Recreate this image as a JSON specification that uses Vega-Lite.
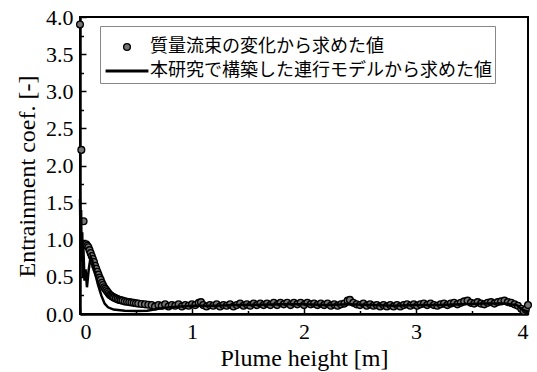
{
  "$schema": "https://vega.github.io/schema/vega-lite/v6.json",
  "width": 448,
  "height": 297,
  "autosize": {"type": "none"},
  "padding": {"left": 80, "top": 17, "right": 9, "bottom": 58},
  "background": "white",
  "config": {
    "view": {"stroke": "black", "strokeWidth": 2},
    "axis": {
      "grid": false,
      "domainColor": "black",
      "domainWidth": 2.5,
      "tickColor": "black",
      "tickWidth": 1.5,
      "labelFont": "Liberation Serif",
      "labelFontSize": 22,
      "labelColor": "black",
      "titleFont": "Liberation Serif",
      "titleFontSize": 24,
      "titleFontWeight": "normal",
      "titleColor": "black",
      "labelOverlap": false
    }
  },
  "datasets": {
    "pts": [
      {"x": 0.000, "y": 3.90}, {"x": 0.012, "y": 2.21}, {"x": 0.032, "y": 1.25}, {"x": 0.045, "y": 0.93},
      {"x": 0.055, "y": 0.94}, {"x": 0.065, "y": 0.92}, {"x": 0.075, "y": 0.90}, {"x": 0.085, "y": 0.86},
      {"x": 0.095, "y": 0.82}, {"x": 0.105, "y": 0.78}, {"x": 0.115, "y": 0.74}, {"x": 0.125, "y": 0.70},
      {"x": 0.135, "y": 0.65}, {"x": 0.145, "y": 0.61}, {"x": 0.155, "y": 0.57}, {"x": 0.165, "y": 0.53},
      {"x": 0.175, "y": 0.49}, {"x": 0.185, "y": 0.46}, {"x": 0.195, "y": 0.42}, {"x": 0.205, "y": 0.39},
      {"x": 0.215, "y": 0.36}, {"x": 0.225, "y": 0.34}, {"x": 0.235, "y": 0.32}, {"x": 0.245, "y": 0.30},
      {"x": 0.255, "y": 0.28}, {"x": 0.265, "y": 0.26}, {"x": 0.275, "y": 0.25}, {"x": 0.285, "y": 0.24},
      {"x": 0.295, "y": 0.23}, {"x": 0.305, "y": 0.22}, {"x": 0.320, "y": 0.21}, {"x": 0.335, "y": 0.20},
      {"x": 0.350, "y": 0.19}, {"x": 0.365, "y": 0.185}, {"x": 0.380, "y": 0.18}, {"x": 0.400, "y": 0.17},
      {"x": 0.420, "y": 0.165}, {"x": 0.440, "y": 0.16}, {"x": 0.460, "y": 0.155}, {"x": 0.480, "y": 0.15},
      {"x": 0.500, "y": 0.145}, {"x": 0.520, "y": 0.14}, {"x": 0.550, "y": 0.135}, {"x": 0.580, "y": 0.13},
      {"x": 0.610, "y": 0.125}, {"x": 0.640, "y": 0.12}, {"x": 0.670, "y": 0.10}, {"x": 0.700, "y": 0.12},
      {"x": 0.730, "y": 0.11}, {"x": 0.760, "y": 0.13}, {"x": 0.790, "y": 0.10}, {"x": 0.820, "y": 0.12},
      {"x": 0.850, "y": 0.11}, {"x": 0.880, "y": 0.13}, {"x": 0.910, "y": 0.10}, {"x": 0.940, "y": 0.12},
      {"x": 0.970, "y": 0.11}, {"x": 1.000, "y": 0.13}, {"x": 1.030, "y": 0.12}, {"x": 1.060, "y": 0.15},
      {"x": 1.080, "y": 0.16}, {"x": 1.100, "y": 0.12}, {"x": 1.130, "y": 0.10}, {"x": 1.160, "y": 0.12},
      {"x": 1.190, "y": 0.11}, {"x": 1.220, "y": 0.13}, {"x": 1.250, "y": 0.10}, {"x": 1.280, "y": 0.12},
      {"x": 1.310, "y": 0.11}, {"x": 1.340, "y": 0.13}, {"x": 1.370, "y": 0.10}, {"x": 1.400, "y": 0.12},
      {"x": 1.430, "y": 0.14}, {"x": 1.460, "y": 0.11}, {"x": 1.490, "y": 0.13}, {"x": 1.520, "y": 0.11},
      {"x": 1.550, "y": 0.14}, {"x": 1.580, "y": 0.12}, {"x": 1.610, "y": 0.14}, {"x": 1.640, "y": 0.12},
      {"x": 1.670, "y": 0.14}, {"x": 1.700, "y": 0.12}, {"x": 1.730, "y": 0.15}, {"x": 1.760, "y": 0.12},
      {"x": 1.790, "y": 0.15}, {"x": 1.820, "y": 0.13}, {"x": 1.850, "y": 0.15}, {"x": 1.880, "y": 0.12},
      {"x": 1.910, "y": 0.15}, {"x": 1.940, "y": 0.13}, {"x": 1.970, "y": 0.15}, {"x": 2.000, "y": 0.12},
      {"x": 2.030, "y": 0.15}, {"x": 2.060, "y": 0.13}, {"x": 2.090, "y": 0.14}, {"x": 2.120, "y": 0.12},
      {"x": 2.150, "y": 0.14}, {"x": 2.180, "y": 0.12}, {"x": 2.210, "y": 0.14}, {"x": 2.240, "y": 0.11},
      {"x": 2.270, "y": 0.13}, {"x": 2.300, "y": 0.11}, {"x": 2.330, "y": 0.13}, {"x": 2.360, "y": 0.14},
      {"x": 2.390, "y": 0.18}, {"x": 2.410, "y": 0.19}, {"x": 2.440, "y": 0.15}, {"x": 2.470, "y": 0.13},
      {"x": 2.500, "y": 0.12}, {"x": 2.530, "y": 0.14}, {"x": 2.560, "y": 0.11}, {"x": 2.590, "y": 0.13},
      {"x": 2.620, "y": 0.11}, {"x": 2.650, "y": 0.12}, {"x": 2.680, "y": 0.10}, {"x": 2.710, "y": 0.12},
      {"x": 2.740, "y": 0.10}, {"x": 2.770, "y": 0.12}, {"x": 2.800, "y": 0.10}, {"x": 2.830, "y": 0.12},
      {"x": 2.860, "y": 0.10}, {"x": 2.890, "y": 0.12}, {"x": 2.920, "y": 0.13}, {"x": 2.950, "y": 0.11},
      {"x": 2.980, "y": 0.13}, {"x": 3.010, "y": 0.11}, {"x": 3.040, "y": 0.13}, {"x": 3.070, "y": 0.14},
      {"x": 3.100, "y": 0.12}, {"x": 3.130, "y": 0.14}, {"x": 3.160, "y": 0.12}, {"x": 3.190, "y": 0.11},
      {"x": 3.220, "y": 0.13}, {"x": 3.250, "y": 0.14}, {"x": 3.280, "y": 0.12}, {"x": 3.310, "y": 0.14},
      {"x": 3.340, "y": 0.15}, {"x": 3.370, "y": 0.13}, {"x": 3.400, "y": 0.15}, {"x": 3.430, "y": 0.17},
      {"x": 3.460, "y": 0.18}, {"x": 3.490, "y": 0.15}, {"x": 3.520, "y": 0.14}, {"x": 3.550, "y": 0.16},
      {"x": 3.580, "y": 0.14}, {"x": 3.610, "y": 0.13}, {"x": 3.640, "y": 0.15}, {"x": 3.670, "y": 0.16},
      {"x": 3.700, "y": 0.14}, {"x": 3.730, "y": 0.16}, {"x": 3.760, "y": 0.17}, {"x": 3.790, "y": 0.18},
      {"x": 3.820, "y": 0.16}, {"x": 3.850, "y": 0.15}, {"x": 3.880, "y": 0.13}, {"x": 3.910, "y": 0.11},
      {"x": 3.940, "y": 0.07}, {"x": 3.960, "y": 0.04}, {"x": 3.980, "y": 0.06}, {"x": 4.000, "y": 0.12}
    ],
    "model": [
      {"x": 0.000, "y": 1.55}, {"x": 0.005, "y": 1.00}, {"x": 0.010, "y": 1.40}, {"x": 0.015, "y": 0.70},
      {"x": 0.020, "y": 1.10}, {"x": 0.025, "y": 0.50}, {"x": 0.030, "y": 0.90}, {"x": 0.040, "y": 0.45},
      {"x": 0.050, "y": 0.60}, {"x": 0.062, "y": 0.36}, {"x": 0.078, "y": 0.60}, {"x": 0.095, "y": 0.77},
      {"x": 0.110, "y": 0.72}, {"x": 0.130, "y": 0.58}, {"x": 0.160, "y": 0.40}, {"x": 0.190, "y": 0.25},
      {"x": 0.220, "y": 0.14}, {"x": 0.250, "y": 0.09}, {"x": 0.300, "y": 0.06}, {"x": 0.400, "y": 0.045},
      {"x": 0.500, "y": 0.04}, {"x": 0.600, "y": 0.045}, {"x": 0.700, "y": 0.07}, {"x": 0.800, "y": 0.09},
      {"x": 0.900, "y": 0.10}, {"x": 1.000, "y": 0.11}, {"x": 1.200, "y": 0.11}, {"x": 1.400, "y": 0.12},
      {"x": 1.600, "y": 0.125}, {"x": 1.800, "y": 0.13}, {"x": 2.000, "y": 0.13}, {"x": 2.200, "y": 0.12},
      {"x": 2.400, "y": 0.13}, {"x": 2.600, "y": 0.12}, {"x": 2.800, "y": 0.11}, {"x": 3.000, "y": 0.12},
      {"x": 3.200, "y": 0.12}, {"x": 3.400, "y": 0.13}, {"x": 3.600, "y": 0.14}, {"x": 3.800, "y": 0.14},
      {"x": 3.900, "y": 0.12}, {"x": 3.950, "y": 0.06}, {"x": 4.000, "y": 0.03}
    ]
  },
  "encoding": {
    "x": {
      "field": "x", "type": "quantitative",
      "scale": {"domain": [0, 4], "nice": false},
      "axis": {
        "title": "Plume height [m]",
        "values": [0, 0.5, 1, 1.5, 2, 2.5, 3, 3.5, 4],
        "labelExpr": "datum.value % 1 === 0 ? format(datum.value, 'd') : ''",
        "labelFont": "Liberation Serif",
        "labelOverlap": false,
        "tickSize": {"condition": {"test": "datum.value % 1 === 0", "value": -6}, "value": -3.5},
        "labelPadding": 13,
        "titlePadding": 2
      }
    },
    "y": {
      "field": "y", "type": "quantitative",
      "scale": {"domain": [0, 4], "nice": false},
      "axis": {
        "title": "Entrainment coef. [-]",
        "values": [0, 0.25, 0.5, 0.75, 1, 1.25, 1.5, 1.75, 2, 2.25, 2.5, 2.75, 3, 3.25, 3.5, 3.75, 4],
        "labelExpr": "(datum.value * 2) % 1 === 0 ? format(datum.value, '.1f') : ''",
        "labelFont": "Liberation Serif",
        "labelOverlap": false,
        "tickSize": {"condition": {"test": "(datum.value * 2) % 1 === 0", "value": -6}, "value": -3.5},
        "labelPadding": 13,
        "titlePadding": 6,
        "titleY": 159
      }
    }
  },
  "layer": [
    {
      "data": {"name": "pts"},
      "transform": [{"calculate": "'質量流束の変化から求めた値'", "as": "series"}],
      "mark": {"type": "point", "filled": true, "opacity": 1},
      "encoding": {
        "fill": {
          "field": "series", "type": "nominal",
          "scale": {"domain": ["質量流束の変化から求めた値", "本研究で構築した連行モデルから求めた値"], "range": ["#757575", "black"]},
          "legend": {
            "orient": "none", "legendX": 20, "legendY": 9, "title": " ",
            "titleFontSize": 7, "titlePadding": 2,
            "strokeColor": "#888888", "padding": 3, "fillColor": "white",
            "labelFont": "Noto Sans CJK JP", "labelFontSize": 18, "labelColor": "black",
            "labelLimit": 600, "rowPadding": 6, "labelOffset": 14, "symbolOffset": 15
          }
        },
        "stroke": {
          "field": "series", "type": "nominal",
          "scale": {"domain": ["質量流束の変化から求めた値", "本研究で構築した連行モデルから求めた値"], "range": ["black", "black"]}
        },
        "shape": {
          "field": "series", "type": "nominal",
          "scale": {"domain": ["質量流束の変化から求めた値", "本研究で構築した連行モデルから求めた値"], "range": ["circle", "M-3.5,0H3.5"]}
        },
        "size": {
          "field": "series", "type": "nominal",
          "scale": {"domain": ["質量流束の変化から求めた値", "本研究で構築した連行モデルから求めた値"], "range": [46, 150]}
        },
        "strokeWidth": {
          "field": "series", "type": "nominal",
          "scale": {"domain": ["質量流束の変化から求めた値", "本研究で構築した連行モデルから求めた値"], "range": [1.3, 3]}
        }
      }
    },
    {
      "data": {"name": "model"},
      "mark": {"type": "line", "color": "black", "strokeWidth": 2.5},
      "encoding": {}
    }
  ]
}
